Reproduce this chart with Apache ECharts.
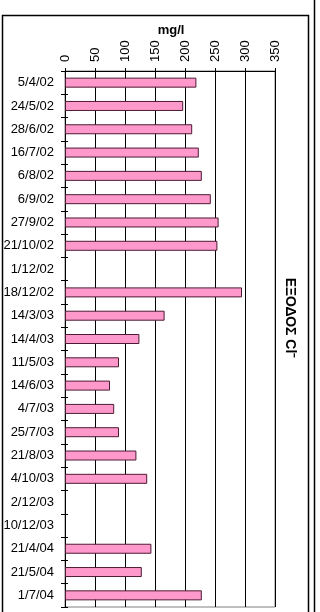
<!DOCTYPE html>
<html><head><meta charset="utf-8">
<script src="https://cdn.jsdelivr.net/npm/echarts@6/dist/echarts.min.js"></script>
<style>html,body{margin:0;padding:0;background:#fff}#c{width:320px;height:612px}</style>
</head><body><div id="c"></div>
<script>
const categories = ['5/4/02','24/5/02','28/6/02','16/7/02','6/8/02','6/9/02','27/9/02','21/10/02','1/12/02','18/12/02','14/3/03','14/4/03','11/5/03','14/6/03','4/7/03','25/7/03','21/8/03','4/10/03','2/12/03','10/12/03','21/4/04','21/5/04','1/7/04'];
const values = [219,197,212,223,228,243,256,254,null,295,166,124,90,75,82,90,119,137,null,null,144,128,228];
const xMin = 0, xMax = 350, xStep = 50;
const axisName = 'mg/l';
const chartTitle = 'ΕΞΟΔΟΣ Cl⁻';

const FONT = '"Liberation Sans", Arial, sans-serif';
const chart = echarts.init(document.getElementById('c'), null, {renderer:'canvas'});
chart.setOption({
  animation:false,
  backgroundColor:'#fff',
  title:{text:axisName, left:171, top:24, textAlign:'center', padding:0,
    textStyle:{fontFamily:FONT, fontSize:13, fontWeight:'bold', color:'#000'}},
  grid:{left:65, top:71, right:45, bottom:5, show:true, borderColor:'#808080', borderWidth:1, backgroundColor:'transparent'},
  xAxis:[{
    type:'value', position:'top', min:xMin, max:xMax, interval:xStep,
    axisLine:{show:true, lineStyle:{color:'#000', width:1}},
    axisTick:{show:true, length:3, lineStyle:{color:'#000'}},
    axisLabel:{rotate:-90, margin:9, fontFamily:FONT, fontSize:13, color:'#000'},
    splitLine:{show:true, lineStyle:{color:'#000', width:1}}
  },{
    type:'value', position:'top', min:xMin, max:xMax, interval:xStep,
    axisLine:{show:false}, axisTick:{show:true, inside:true, length:2, lineStyle:{color:'#000'}},
    axisLabel:{show:false}, splitLine:{show:false}
  }],
  yAxis:[{
    type:'category', data:categories, inverse:true,
    axisLine:{show:true, lineStyle:{color:'#000', width:1}},
    axisTick:{show:true, length:4, lineStyle:{color:'#000'}},
    axisLabel:{margin:11, fontFamily:FONT, fontSize:13, color:'#000'},
    splitLine:{show:false}
  },{
    type:'category', data:categories, inverse:true, position:'left',
    axisLine:{show:false}, axisTick:{show:true, inside:true, length:3, lineStyle:{color:'#000'}},
    axisLabel:{show:false}, splitLine:{show:false}
  }],
  series:[{
    type:'bar', data:values, barWidth:10,
    itemStyle:{color:'#FF99CC', borderColor:'#4D1A33', borderWidth:1}
  }],
  graphic:[
    {type:'rect', shape:{x:2.5, y:15.5, width:306, height:610}, style:{fill:null, stroke:'#000', lineWidth:1.5}, z:100},
    {type:'line', shape:{x1:314.5, y1:0, x2:314.5, y2:612}, style:{stroke:'#000', lineWidth:1.5}, z:100},
    {type:'text', x:290, y:318, rotation:-Math.PI/2, style:{text:chartTitle, font:'bold 14px "Liberation Sans", Arial, sans-serif', fill:'#000', align:'center', verticalAlign:'middle'}, z:100}
  ]
});
</script></body></html>
